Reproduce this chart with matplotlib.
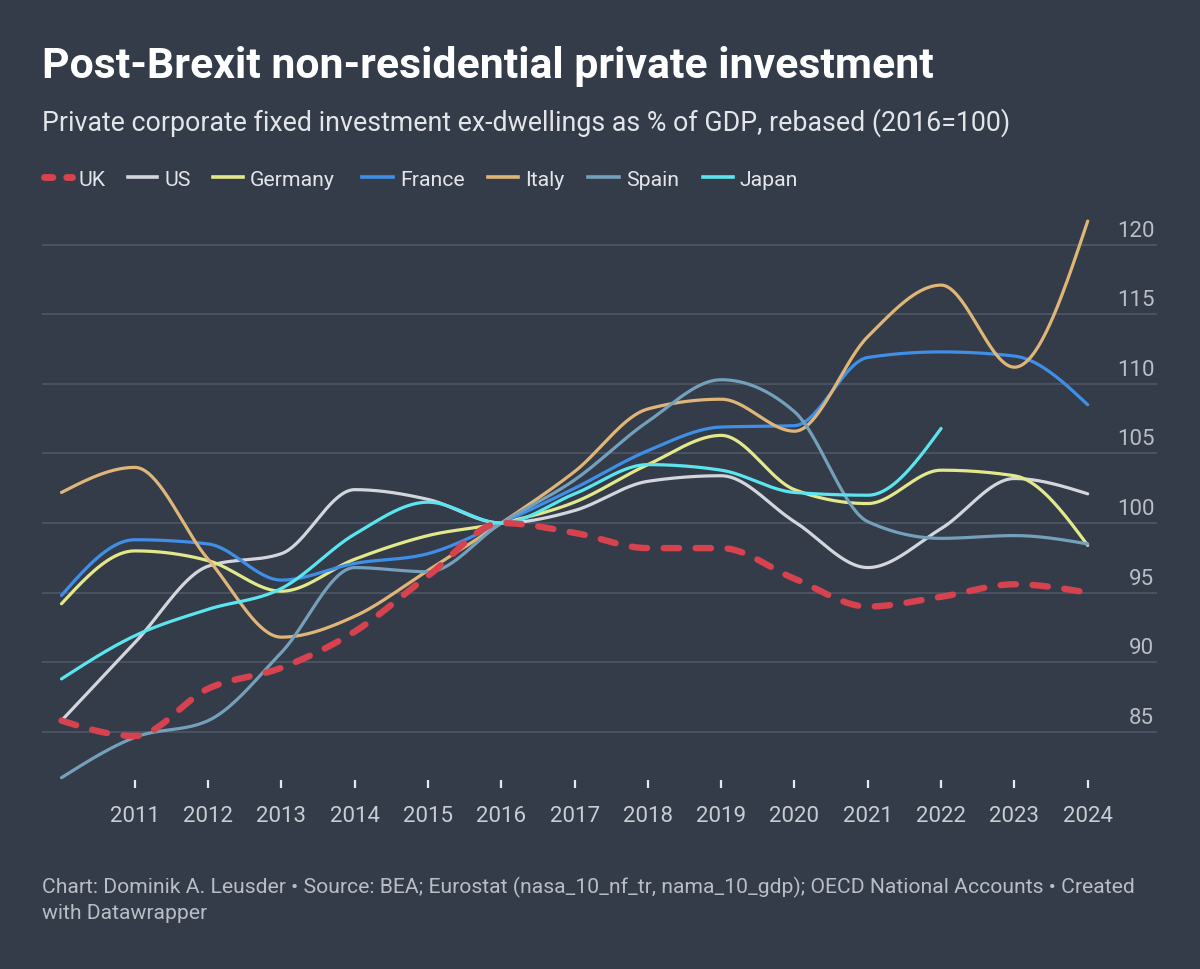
import numpy as np
import matplotlib
matplotlib.use("Agg")
import matplotlib.pyplot as plt
from matplotlib.lines import Line2D

plt.rcParams['font.family'] = ['Roboto', 'DejaVu Sans']

# ---- data ----
years = list(range(2010, 2025))
uk = [85.8, 84.7, 88.1, 89.6, 92.2, 96.2, 100, 99.3, 98.2, 98.2, 96.0, 94.0, 94.7, 95.6, 95.0]
us = [85.8, 91.4, 96.9, 97.8, 102.4, 101.7, 100, 100.9, 103.0, 103.4, 100.1, 96.8, 99.6, 103.2, 102.1]
germany = [94.2, 98.0, 97.3, 95.1, 97.4, 99.1, 100, 101.5, 104.2, 106.3, 102.4, 101.4, 103.8, 103.4, 98.4]
france = [94.8, 98.8, 98.5, 95.9, 97.1, 97.8, 100, 102.5, 105.2, 106.9, 107.0, 111.9, 112.3, 112.0, 108.5]
italy = [102.2, 104.0, 97.4, 91.8, 93.3, 96.6, 100, 103.7, 108.2, 108.9, 106.6, 113.4, 117.1, 111.2, 121.7]
spain = [81.7, 84.6, 85.8, 90.7, 96.8, 96.5, 100, 103.1, 107.3, 110.3, 108.0, 100.1, 98.9, 99.1, 98.5]
japan = [88.8, 91.9, 93.8, 95.3, 99.2, 101.5, 100, 102.1, 104.2, 103.8, 102.2, 102.0, 106.8]

names = ['UK', 'US', 'Germany', 'France', 'Italy', 'Spain', 'Japan']
series = [uk, us, germany, france, italy, spain, japan]
colors = ['#d6424d', '#d3d6dc', '#e3e98a', '#3f8fe8', '#dfb677', '#75a0bb', '#5be6ef']

yticks = [85, 90, 95, 100, 105, 110, 115, 120]
xticks = list(range(2011, 2025))

BG = '#343c4a'
GRID = '#4f5766'


def monotone_x(x, y, n=40):
    # same idea as d3.curveMonotoneX: hermite segments with limited tangents
    x = np.asarray(x, float)
    y = np.asarray(y, float)
    m = len(x)
    s = np.diff(y) / np.diff(x)
    h = np.diff(x)
    t = np.zeros(m)
    for i in range(1, m - 1):
        p = (s[i - 1] * h[i] + s[i] * h[i - 1]) / (h[i - 1] + h[i])
        t[i] = (np.sign(s[i - 1]) + np.sign(s[i])) * min(abs(s[i - 1]), abs(s[i]), 0.5 * abs(p))
    t[0] = (3 * s[0] - t[1]) / 2
    t[-1] = (3 * s[-1] - t[-2]) / 2
    xs, ys = [], []
    for i in range(m - 1):
        u = np.linspace(0, 1, n)
        h00 = 2 * u**3 - 3 * u**2 + 1
        h10 = u**3 - 2 * u**2 + u
        h01 = -2 * u**3 + 3 * u**2
        h11 = u**3 - u**2
        xs.append(x[i] + u * h[i])
        ys.append(h00 * y[i] + h10 * h[i] * t[i] + h01 * y[i + 1] + h11 * h[i] * t[i + 1])
    return np.concatenate(xs), np.concatenate(ys)


fig = plt.figure(figsize=(12, 9.7), dpi=100, facecolor=BG)
W, H = 1200, 970
ax = fig.add_axes([42 / W, (H - 789) / H, (1157 - 42) / W, (789 - 204) / H])
ax.set_facecolor(BG)
ax.set_xlim(2010 - 19.5 / 73.3, 2010 + (1157 - 61.5) / 73.3)
ax.set_ylim(80.96, 123.0)

for v in yticks:
    ax.axhline(v, color=GRID, lw=1.2, zorder=1)
    ax.annotate(str(v), xy=(1, v), xycoords=ax.get_yaxis_transform(),
                xytext=(-2, 6.5), textcoords='offset points',
                ha='right', va='baseline', fontsize=16, color='#b9bdc5')

# lines: UK drawn last so it sits on top
order = [1, 2, 3, 4, 5, 6, 0]
for k in order:
    xs, ys = monotone_x(years[:len(series[k])], series[k])
    if names[k] == 'UK':
        ax.plot(xs, ys, color=colors[k], lw=4.6, dashes=(2.4, 2.6),
                dash_capstyle='round', zorder=5, clip_on=False)
    else:
        ax.plot(xs, ys, color=colors[k], lw=2.3, solid_capstyle='round',
                zorder=3, clip_on=False)

ax.set_xticks(xticks)
ax.set_xticklabels([str(y) for y in xticks])
ax.set_yticks([])
ax.tick_params(axis='x', direction='in', length=6, width=1.6, color='#e6e8eb',
               labelsize=16, labelcolor='#c9cdd3', pad=12)
for sp in ax.spines.values():
    sp.set_visible(False)

# title block
fig.text(42 / W, 1 - 78 / H, 'Post-Brexit non-residential private investment',
         fontsize=30.8, fontweight='bold', color='white', va='baseline')
fig.text(42 / W, 1 - 131 / H,
         'Private corporate fixed investment ex-dwellings as % of GDP, rebased (2016=100)',
         fontsize=19.3, color='#e3e5e9', va='baseline')

# legend drawn by hand, Datawrapper style
leg_y = 1 - 178 / H
line_x = [(44, 72), (128, 157), (213, 243), (362, 393), (488, 518), (588, 619), (703, 733)]
for k, (x0, x1) in enumerate(line_x):
    if names[k] == 'UK':
        fig.add_artist(Line2D([x0 / W, x1 / W], [leg_y, leg_y], color=colors[k], lw=5,
                              dashes=(1.2, 2.0), dash_capstyle='round', transform=fig.transFigure))
    else:
        fig.add_artist(Line2D([x0 / W, x1 / W], [leg_y, leg_y], color=colors[k], lw=2.6,
                              transform=fig.transFigure))
    fig.text((x1 + 7) / W, 1 - 186 / H, names[k], fontsize=15.3, color='#e3e5e9', va='baseline')

fig.text(42 / W, 1 - 893 / H,
         'Chart: Dominik A. Leusder \u2022 Source: BEA; Eurostat (nasa_10_nf_tr, nama_10_gdp); '
         'OECD National Accounts \u2022 Created',
         fontsize=15.2, color='#b9bdc5', va='baseline')
fig.text(42 / W, 1 - 919 / H, 'with Datawrapper', fontsize=15.2, color='#b9bdc5', va='baseline')

fig.savefig('out.png', dpi=100, facecolor=BG)
